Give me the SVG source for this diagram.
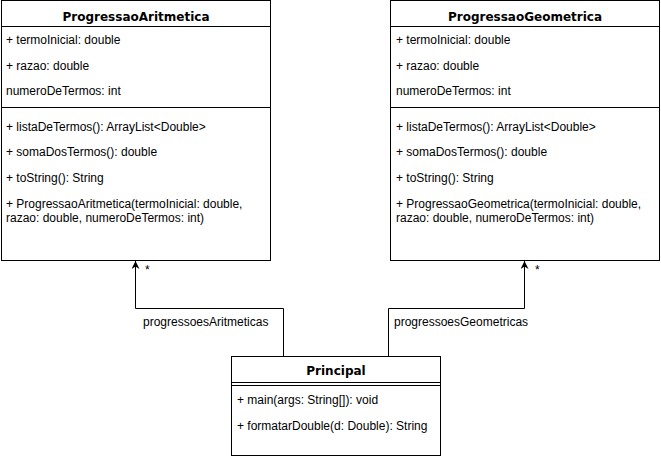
<svg xmlns="http://www.w3.org/2000/svg" width="661" height="457" viewBox="0 0 661 457">
<style>
.box{fill:#fff;stroke:#000;stroke-width:1}
.ln{stroke:#000;stroke-width:1;fill:none}
text{font-family:"Liberation Sans",Arial,sans-serif;font-size:12px;fill:#000}
.t{font-family:"DejaVu Sans",Verdana,sans-serif;font-weight:bold;text-anchor:middle}
</style>
<defs>
<marker id="arr" viewBox="0 0 10 10" refX="10" refY="5" markerWidth="8" markerHeight="8" markerUnits="userSpaceOnUse" orient="auto">
<path d="M0,0 L10,5 L0,10 L3,5 Z" fill="#000"/>
</marker>
</defs>
<rect width="661" height="457" fill="#fff"/>
<g id="connectors">
<path class="ln" d="M283.5,356 V308.5 H135.5 V261" marker-end="url(#arr)"/>
<path class="ln" d="M388.5,356 V308.5 H524.5 V261" marker-end="url(#arr)"/>
<text x="145" y="274">*</text>
<text x="535" y="274">*</text>
<text x="143" y="326">progressoesAritmeticas</text>
<text x="394" y="326">progressoesGeometricas</text>
</g>
<g id="ProgressaoAritmetica">
<rect class="box" x="1.5" y="0.5" width="269" height="260"/>
<line class="ln" x1="1.5" y1="26.5" x2="270.5" y2="26.5"/>
<line class="ln" x1="1.5" y1="107.5" x2="270.5" y2="107.5"/>
<text class="t" x="136" y="21">ProgressaoAritmetica</text>
<text x="6" y="44">+ termoInicial: double</text>
<text x="6" y="70">+ razao: double</text>
<text x="6" y="95">numeroDeTermos: int</text>
<text x="6" y="131">+ listaDeTermos(): ArrayList&lt;Double&gt;</text>
<text x="6" y="156">+ somaDosTermos(): double</text>
<text x="6" y="182">+ toString(): String</text>
<text x="6" y="208">+ ProgressaoAritmetica(termoInicial: double,</text>
<text x="6" y="222">razao: double, numeroDeTermos: int)</text>
</g>
<g id="ProgressaoGeometrica">
<rect class="box" x="390.5" y="0.5" width="269" height="260"/>
<line class="ln" x1="390.5" y1="26.5" x2="659.5" y2="26.5"/>
<line class="ln" x1="390.5" y1="107.5" x2="659.5" y2="107.5"/>
<text class="t" x="525" y="21">ProgressaoGeometrica</text>
<text x="396" y="44">+ termoInicial: double</text>
<text x="396" y="70">+ razao: double</text>
<text x="396" y="95">numeroDeTermos: int</text>
<text x="396" y="131">+ listaDeTermos(): ArrayList&lt;Double&gt;</text>
<text x="396" y="156">+ somaDosTermos(): double</text>
<text x="396" y="182">+ toString(): String</text>
<text x="396" y="208">+ ProgressaoGeometrica(termoInicial: double,</text>
<text x="396" y="222">razao: double, numeroDeTermos: int)</text>
</g>
<g id="Principal">
<rect class="box" x="231.5" y="356.5" width="209" height="99"/>
<line class="ln" x1="231.5" y1="382.5" x2="440.5" y2="382.5"/>
<line class="ln" x1="231.5" y1="385.5" x2="440.5" y2="385.5"/>
<text class="t" x="336" y="375">Principal</text>
<text x="237" y="404">+ main(args: String[]): void</text>
<text x="237" y="430">+ formatarDouble(d: Double): String</text>
</g>
</svg>
